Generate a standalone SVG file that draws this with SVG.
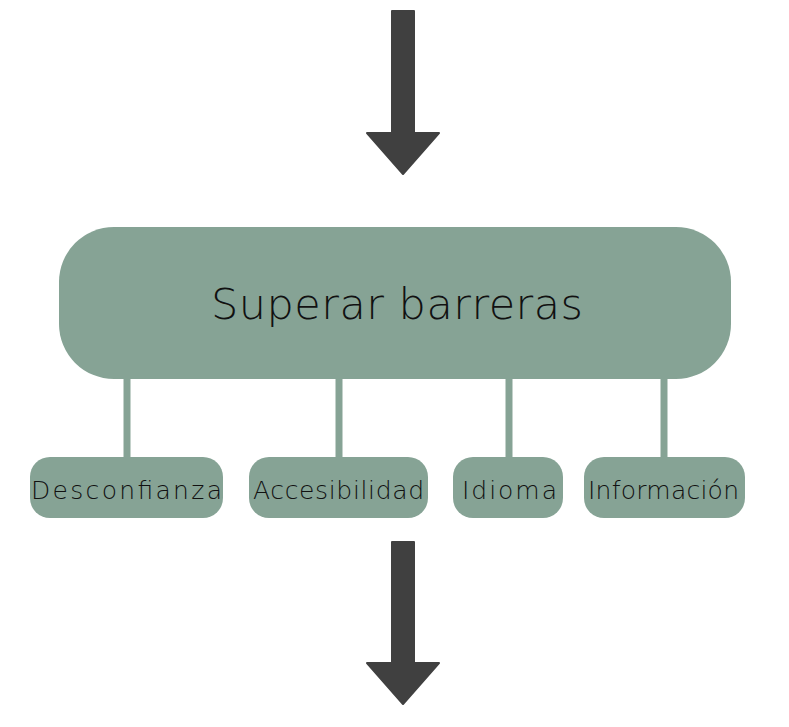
<svg xmlns="http://www.w3.org/2000/svg" width="789" height="727" viewBox="0 0 789 727">
<style>
.box{fill:#86a395}
.lbl{font-family:"DejaVu Sans","Liberation Sans",sans-serif;font-weight:200;fill:#111;text-anchor:middle}
.arrow{fill:#404040;stroke:#404040;stroke-width:2;stroke-linejoin:round}
.conn{stroke:#86a395;stroke-width:7}
</style>
<rect width="789" height="727" fill="#fff"/>
<g id="connectors">
<path class="arrow" d="M392 11 H414 V133 H439 L403 174 L367 133 H392 Z"/>
<path class="arrow" d="M392 542 H414 V663 H439 L403 704 L367 663 H392 Z"/>
<line class="conn" x1="127" y1="375" x2="127" y2="460"/>
<line class="conn" x1="339" y1="375" x2="339" y2="460"/>
<line class="conn" x1="509" y1="375" x2="509" y2="460"/>
<line class="conn" x1="664" y1="375" x2="664" y2="460"/>
</g>
<g id="main">
<rect class="box" x="59" y="227" width="672" height="152" rx="55"/>
<text class="lbl" x="397" y="319" font-size="43" textLength="372" lengthAdjust="spacing">Superar barreras</text>
</g>
<g id="desconfianza">
<rect class="box" x="30" y="457" width="193" height="61" rx="20"/>
<text class="lbl" x="126.5" y="498.5" font-size="25" textLength="191" lengthAdjust="spacing">Desconfianza</text>
</g>
<g id="accesibilidad">
<rect class="box" x="249" y="457" width="179" height="61" rx="20"/>
<text class="lbl" x="338.5" y="498.5" font-size="25" textLength="171" lengthAdjust="spacing">Accesibilidad</text>
</g>
<g id="idioma">
<rect class="box" x="453" y="457" width="110" height="61" rx="20"/>
<text class="lbl" x="509.5" y="498.5" font-size="25" textLength="95" lengthAdjust="spacing">Idioma</text>
</g>
<g id="informacion">
<rect class="box" x="584" y="457" width="161" height="61" rx="20"/>
<text class="lbl" x="663.5" y="498.5" font-size="25" textLength="151" lengthAdjust="spacing">Información</text>
</g>
</svg>
